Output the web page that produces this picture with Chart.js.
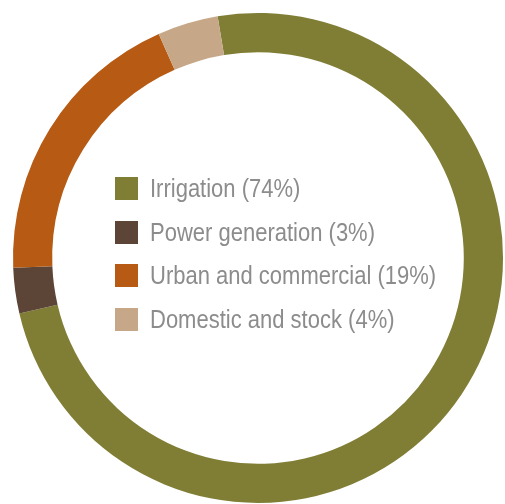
<!DOCTYPE html>
<html>
<head>
<meta charset="utf-8">
<script src="https://cdn.jsdelivr.net/npm/chart.js@4"></script>
<style>
  html, body { margin: 0; padding: 0; background: #fff; }
  #wrap { position: relative; width: 505px; height: 504px; }
  #legend { position: absolute; left: 115px; top: 175px; margin: 0; padding: 0; list-style: none;
            font-family: "Liberation Sans Narrow", "Liberation Sans", sans-serif; font-size: 25px; color: #8c8c8c; }
  #legend li { height: 43.5px; display: flex; align-items: flex-start; white-space: nowrap; }
  #legend span.box { display: inline-block; width: 23px; height: 23px; margin-right: 12px; margin-top: 2px; flex: none; }
  #legend span.txt { display: inline-block; transform: scaleX(0.88); transform-origin: left center; line-height: 26px; }
</style>
</head>
<body>
<div id="wrap">
  <canvas id="waterUse" width="505" height="504"></canvas>
  <ul id="legend"></ul>
</div>
<script>
var labels = ["Irrigation", "Power generation", "Urban and commercial", "Domestic and stock"]
var shares = [74, 3, 19, 4]
var colours = ["#807e35", "#5c4436", "#b65a14", "#c6a888"]

waterUseChart()

function waterUseChart(){
    var canvas = document.querySelector("#waterUse")

    var shareData = {
        data: shares,
        backgroundColor: colours,
        borderWidth: 0
    }

    var doughnut = new Chart(canvas, {
        type: "doughnut",
        data: {
            labels: labels,
            datasets: [shareData]
        },
        options: {
            responsive: false,
            animation: false,
            cutout: "84%",
            rotation: -9.5,
            layout: { padding: { left: 13, right: 2, top: 13, bottom: 1 } },
            plugins: {
                legend: { display: false },
                tooltip: { enabled: false }
            }
        }
    })

    // legend sits inside the ring
    var list = document.querySelector("#legend")
    for (var i = 0; i < labels.length; i++) {
        var li = document.createElement("li")
        var box = document.createElement("span")
        box.className = "box"
        box.style.background = colours[i]
        var txt = document.createElement("span")
        txt.className = "txt"
        txt.textContent = labels[i] + " (" + shares[i] + "%)"
        li.appendChild(box)
        li.appendChild(txt)
        list.appendChild(li)
    }
}
</script>
</body>
</html>
